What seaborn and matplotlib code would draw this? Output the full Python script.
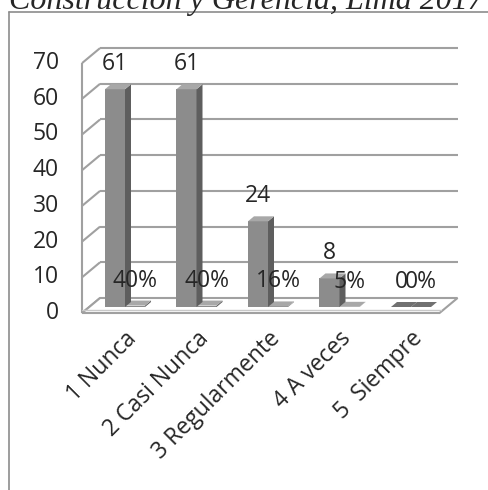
import matplotlib
matplotlib.use("Agg")
import matplotlib.pyplot as plt
from matplotlib.patches import Polygon
from matplotlib.lines import Line2D
import pandas as pd
import seaborn as sns

# Survey answers: frequency and share of respondents per option
categorias = ["1 Nunca", "2 Casi Nunca", "3 Regularmente", "4 A veces", "5  Siempre"]
frecuencia = [61, 61, 24, 8, 0]
porcentaje = [0.40, 0.40, 0.16, 0.05, 0.00]
marcas_y = [0, 10, 20, 30, 40, 50, 60, 70]
titulo = "Construcción y Gerencia, Lima 2017"

sns.set_style("white")
plt.rcParams["font.family"] = ["Open Sans", "DejaVu Sans"]

W, H = 488, 490
fig = plt.figure(figsize=(W / 100, H / 100), dpi=100)
ax = fig.add_axes([0, 0, 1, 1])

df = pd.DataFrame({
    "categoria": categorias * 2,
    "serie": ["Frecuencia"] * len(categorias) + ["Porcentaje"] * len(categorias),
    "valor": frecuencia + porcentaje,
})

FRONT, SIDE, TOP = "#8c8c8c", "#5e5e5e", "#a8a8a8"
sns.barplot(data=df, x="categoria", y="valor", hue="serie", order=categorias,
            hue_order=["Frecuencia", "Porcentaje"], palette=[FRONT, FRONT],
            width=0.56, gap=0, saturation=1, legend=False, ax=ax,
            edgecolor="none", linewidth=0)

# pixel scale of the bar plane: one category = 71.5 px, one unit = 3.57 px
X0, SX, Y0, SY = 125.0, 71.5, 307.0, 3.57
ax.set_xlim((0 - X0) / SX, (W - X0) / SX)
ax.set_ylim((Y0 - H) / SY, Y0 / SY)
ax.axis("off")

# depth of the chart box (front edge -> back wall) and of each bar
DX, DY = 18 / SX, 15 / SY
FX, FY = -0.4 * DX, -0.4 * DY     # front plane offset
BX, BY = 0.6 * DX, 0.6 * DY       # back wall offset
dxb, dyb = 6 / SX, 5 / SY

n = len(categorias)
xl, xr = -0.5, n - 0.5
WALL = "#a0a0a0"
wall_kw = dict(color=WALL, lw=1.5, zorder=1, solid_capstyle="butt")

# back wall gridlines and left side wall
for v in marcas_y:
    if v > 0:
        ax.plot([xl + BX, xr + BX], [v + BY, v + BY], **wall_kw)
    ax.plot([xl + FX, xl + BX], [v + FY, v + BY], **wall_kw)
ax.plot([xl + FX, xl + FX], [FY, marcas_y[-1] + FY], **wall_kw)

# floor slab
floor = Polygon([(xl + FX, FY), (xr + FX, FY), (xr + BX, BY), (xl + BX, BY)],
                closed=True, fc="white", ec=WALL, lw=1.5, zorder=1.5)
ax.add_patch(floor)
ax.plot([xl + FX, xr + FX + 0.02], [FY + 0.9, FY + 0.9], color="#c8c8c8",
        lw=1.0, zorder=1.6)

# 3D faces for each bar
for p in ax.patches:
    if p is floor:
        continue
    x, w, h = p.get_x(), p.get_width(), p.get_height()
    centro = x + w / 2
    primera = centro < round(centro)
    z = 4 if primera else 3
    p.set_zorder(z)
    ax.add_patch(Polygon([(x + w, 0), (x + w + dxb, dyb), (x + w + dxb, h + dyb), (x + w, h)],
                         closed=True, fc=SIDE, ec="none", zorder=z))
    ax.add_patch(Polygon([(x, h), (x + w, h), (x + w + dxb, h + dyb), (x + dxb, h + dyb)],
                         closed=True, fc=TOP if h > 0 else "#707070", ec="none", zorder=z))

fs = 16.5
# value labels
for i, (f, pc) in enumerate(zip(frecuencia, porcentaje)):
    ax.text(i - 0.14, f + 7, f"{f}", ha="center", va="center", fontsize=fs, zorder=6)
    ax.text(i + 0.14, pc + 7, f"{pc:.0%}", ha="center", va="center", fontsize=fs, zorder=6)

# y-axis labels on the front plane
for v in marcas_y:
    ax.text((59 - X0) / SX, v + FY, f"{v}", ha="right", va="center", fontsize=fs)

# category labels
for i, c in enumerate(categorias):
    ax.text(i + FX + 7 / SX, (Y0 - 327) / SY, c, rotation=45, rotation_mode="anchor",
            ha="right", va="top", fontsize=fs)

# chart frame and title
fig.add_artist(Line2D([8.5 / W, 8.5 / W], [0, 1 - 12 / H], color="#8c8c8c", lw=1.2,
                      transform=fig.transFigure))
fig.add_artist(Line2D([8.5 / W, 1], [1 - 12 / H, 1 - 12 / H], color="#8c8c8c", lw=1.2,
                      transform=fig.transFigure))
fig.text(9 / W, 1 - 9 / H, titulo, family=["Liberation Serif"], style="italic",
         fontsize=23, ha="left", va="baseline")

fig.savefig("out.png", dpi=100)
